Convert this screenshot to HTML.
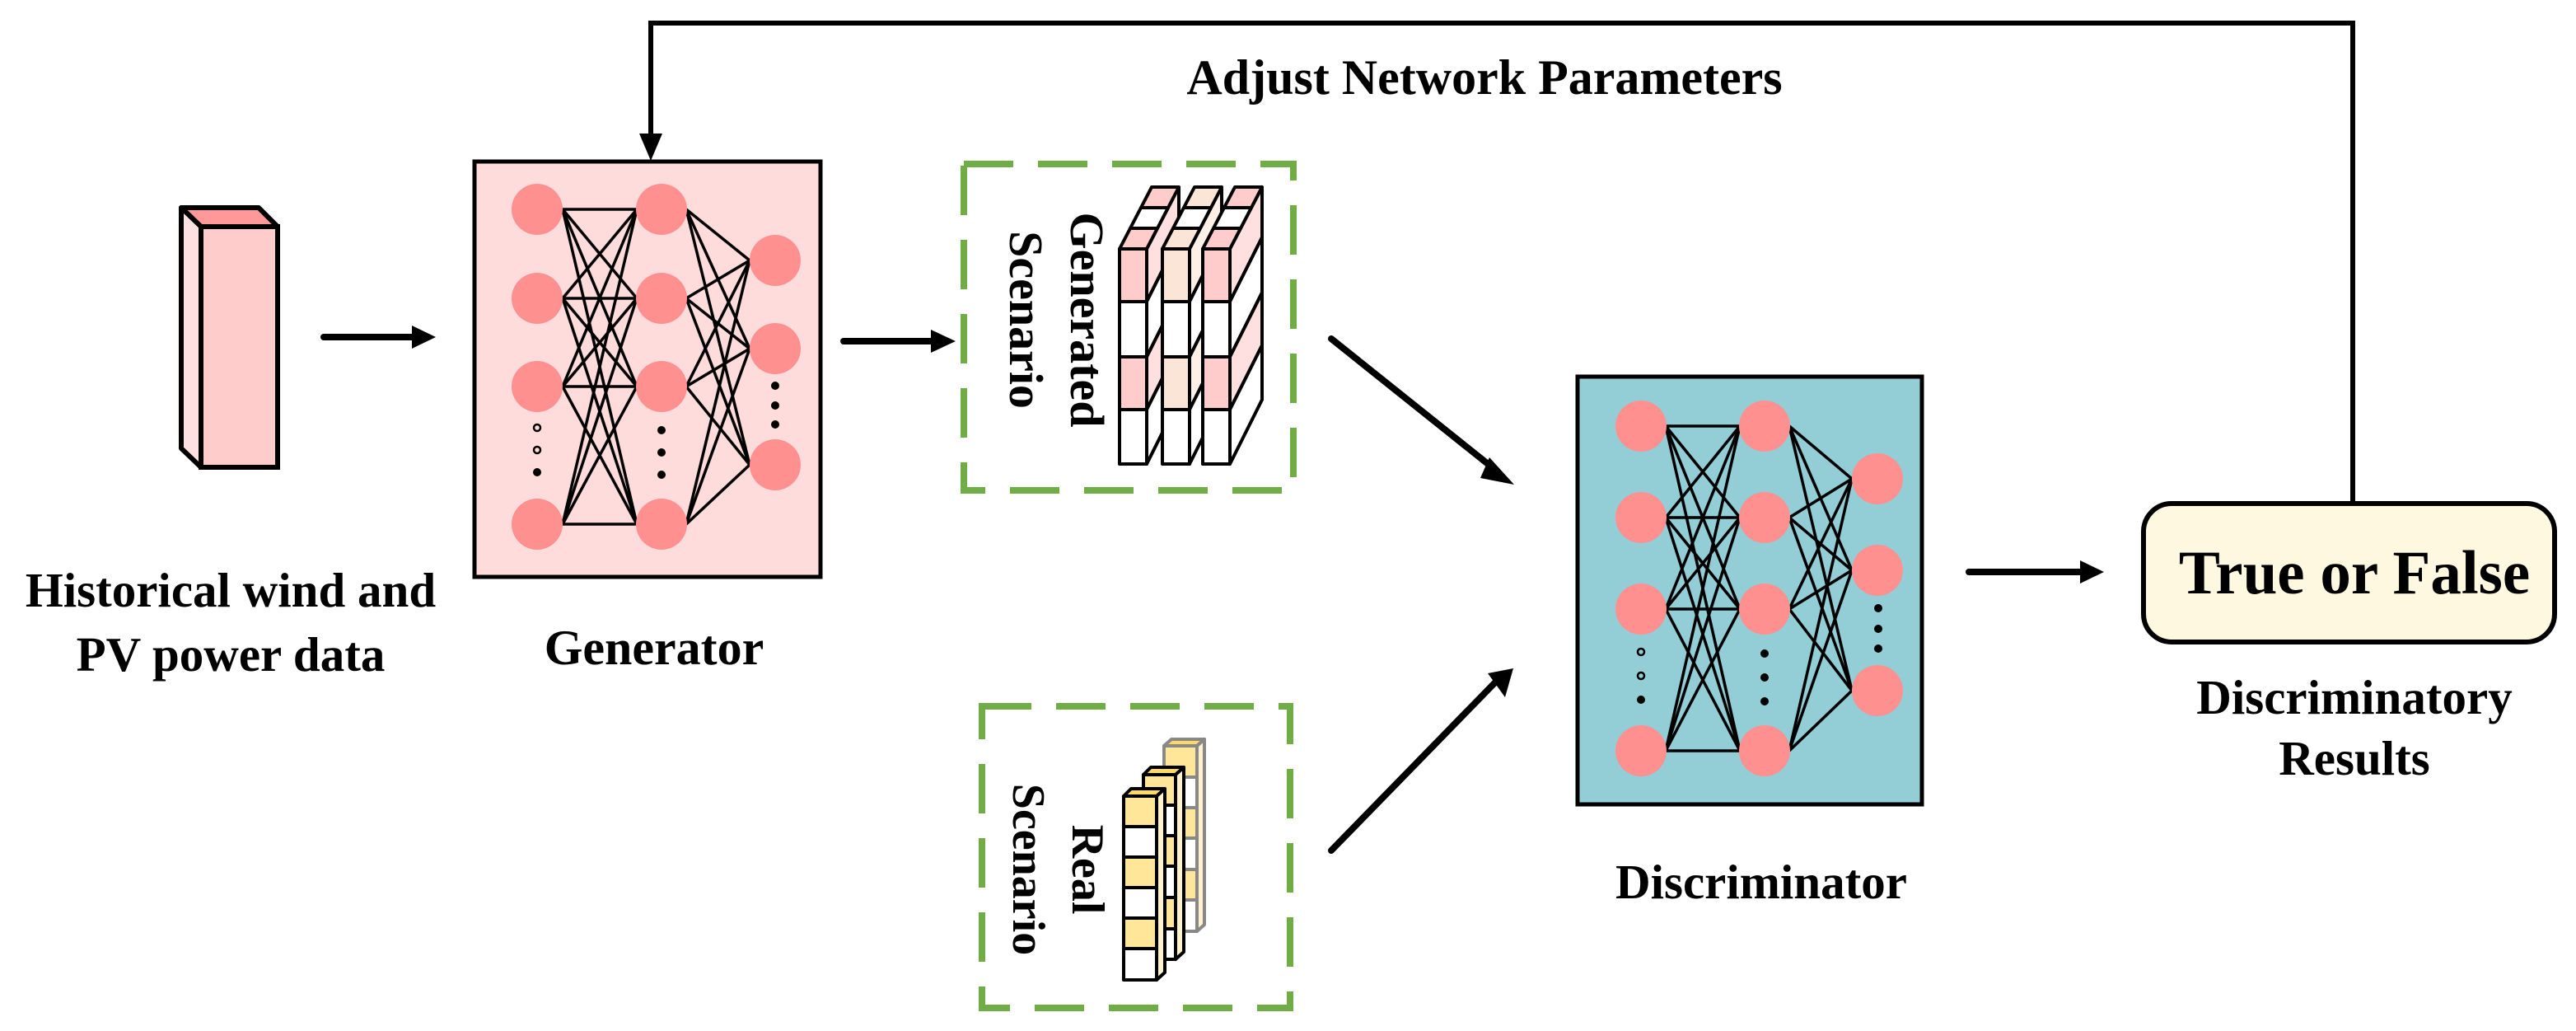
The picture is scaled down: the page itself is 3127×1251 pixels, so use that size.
<!DOCTYPE html>
<html><head><meta charset="utf-8"><style>
html,body{margin:0;padding:0;background:#fff;}
svg{display:block;}
text{font-family:"Liberation Serif",serif;font-weight:bold;fill:#000;}
</style></head><body>
<svg width="3127" height="1251" viewBox="0 0 3127 1251" xmlns="http://www.w3.org/2000/svg">

<!-- Input bar -->
<polygon points="220,252 314,252 337,275 244,275" fill="#FF9999" stroke="#000" stroke-width="6" stroke-linejoin="round"/>
<polygon points="220,252 244,275 244,567 220,544" fill="#FFE0E0" stroke="#000" stroke-width="6" stroke-linejoin="round"/>
<rect x="244" y="275" width="93" height="292" fill="#FFCCCC" stroke="#000" stroke-width="6"/>
<text x="280" y="736" font-size="59" text-anchor="middle">Historical wind and</text>
<text x="280" y="814" font-size="59" text-anchor="middle">PV power data</text>

<!-- arrow input->generator -->
<line x1="393" y1="409" x2="502" y2="409" stroke="#000" stroke-width="8" stroke-linecap="round"/>
<polygon points="500,395 529,409 500,423" fill="#000"/>

<!-- Generator -->
<rect x="576" y="196" width="420" height="504" fill="#FFDCDC" stroke="#000" stroke-width="5"/>
<g stroke="#000" stroke-width="3.5">
<line x1="683" y1="254" x2="773" y2="254"/><line x1="683" y1="254" x2="773" y2="362"/><line x1="683" y1="254" x2="773" y2="469"/><line x1="683" y1="254" x2="773" y2="636"/>
<line x1="683" y1="362" x2="773" y2="254"/><line x1="683" y1="362" x2="773" y2="362"/><line x1="683" y1="362" x2="773" y2="469"/><line x1="683" y1="362" x2="773" y2="636"/>
<line x1="683" y1="469" x2="773" y2="254"/><line x1="683" y1="469" x2="773" y2="362"/><line x1="683" y1="469" x2="773" y2="469"/><line x1="683" y1="469" x2="773" y2="636"/>
<line x1="683" y1="636" x2="773" y2="254"/><line x1="683" y1="636" x2="773" y2="362"/><line x1="683" y1="636" x2="773" y2="469"/><line x1="683" y1="636" x2="773" y2="636"/>
<line x1="833" y1="254" x2="910" y2="316"/><line x1="833" y1="254" x2="910" y2="423"/><line x1="833" y1="254" x2="910" y2="564"/>
<line x1="833" y1="362" x2="910" y2="316"/><line x1="833" y1="362" x2="910" y2="423"/><line x1="833" y1="362" x2="910" y2="564"/>
<line x1="833" y1="469" x2="910" y2="316"/><line x1="833" y1="469" x2="910" y2="423"/><line x1="833" y1="469" x2="910" y2="564"/>
<line x1="833" y1="636" x2="910" y2="316"/><line x1="833" y1="636" x2="910" y2="423"/><line x1="833" y1="636" x2="910" y2="564"/>
</g>
<g fill="#FF9090">
<circle cx="652" cy="254" r="31"/><circle cx="652" cy="362" r="31"/><circle cx="652" cy="469" r="31"/><circle cx="652" cy="636" r="31"/>
<circle cx="803" cy="254" r="31"/><circle cx="803" cy="362" r="31"/><circle cx="803" cy="469" r="31"/><circle cx="803" cy="636" r="31"/>
<circle cx="941" cy="316" r="31"/><circle cx="941" cy="423" r="31"/><circle cx="941" cy="564" r="31"/>
</g>
<g fill="#000">
<circle cx="652" cy="519" r="4" fill="none" stroke="#000" stroke-width="2.5"/><circle cx="652" cy="546" r="4" fill="none" stroke="#000" stroke-width="2.5"/><circle cx="652" cy="573" r="5"/>
<circle cx="803" cy="522" r="5"/><circle cx="803" cy="549" r="5"/><circle cx="803" cy="576" r="5"/>
<circle cx="941" cy="468" r="5"/><circle cx="941" cy="492" r="5"/><circle cx="941" cy="515" r="5"/>
</g>
<text x="794" y="806" font-size="60" text-anchor="middle">Generator</text>

<!-- arrow gen -> generated scenario -->
<line x1="1024" y1="414" x2="1132" y2="414" stroke="#000" stroke-width="8" stroke-linecap="round"/>
<polygon points="1130,400 1160,414 1130,428" fill="#000"/>

<!-- Generated scenario box -->
<rect x="1170" y="199" width="400" height="396" fill="none" stroke="#70AD47" stroke-width="8" stroke-dasharray="60,30"/>
<text transform="translate(1300,388) rotate(90)" font-size="58" text-anchor="middle">Generated</text>
<text transform="translate(1226,388) rotate(90)" font-size="58" text-anchor="middle">Scenario</text>

<!-- cube columns -->
<g stroke="#000" stroke-width="4" stroke-linejoin="round">
<polygon points="1392,302 1431,227 1431,288 1392,366" fill="#FFE0E0"/>
<polygon points="1392,366 1431,288 1431,355 1392,433" fill="#fff"/>
<polygon points="1392,433 1431,355 1431,419 1392,497" fill="#FFE0E0"/>
<polygon points="1392,497 1431,419 1431,485 1392,563" fill="#fff"/>
<polygon points="1359,302 1392,302 1405,277 1372,277" fill="#FFCCCC"/>
<polygon points="1372,277 1405,277 1418,252 1385,252" fill="#fff"/>
<polygon points="1385,252 1418,252 1431,227 1398,227" fill="#FFCCCC"/>
<rect x="1359" y="302" width="33" height="64" fill="#FFCCCC"/><rect x="1359" y="366" width="33" height="67" fill="#fff"/>
<rect x="1359" y="433" width="33" height="64" fill="#FFCCCC"/><rect x="1359" y="497" width="33" height="66" fill="#fff"/>
<polygon points="1444,302 1483,227 1483,288 1444,366" fill="#FDF0E6"/>
<polygon points="1444,366 1483,288 1483,355 1444,433" fill="#fff"/>
<polygon points="1444,433 1483,355 1483,419 1444,497" fill="#FDF0E6"/>
<polygon points="1444,497 1483,419 1483,485 1444,563" fill="#fff"/>
<polygon points="1411,302 1444,302 1457,277 1424,277" fill="#FBE5D6"/>
<polygon points="1424,277 1457,277 1470,252 1437,252" fill="#fff"/>
<polygon points="1437,252 1470,252 1483,227 1450,227" fill="#FBE5D6"/>
<rect x="1411" y="302" width="33" height="64" fill="#FBE5D6"/><rect x="1411" y="366" width="33" height="67" fill="#fff"/>
<rect x="1411" y="433" width="33" height="64" fill="#FBE5D6"/><rect x="1411" y="497" width="33" height="66" fill="#fff"/>
<polygon points="1493,302 1532,227 1532,288 1493,366" fill="#FFE0E0"/>
<polygon points="1493,366 1532,288 1532,355 1493,433" fill="#fff"/>
<polygon points="1493,433 1532,355 1532,419 1493,497" fill="#FFE0E0"/>
<polygon points="1493,497 1532,419 1532,485 1493,563" fill="#fff"/>
<polygon points="1460,302 1493,302 1506,277 1473,277" fill="#FFCCCC"/>
<polygon points="1473,277 1506,277 1519,252 1486,252" fill="#fff"/>
<polygon points="1486,252 1519,252 1532,227 1499,227" fill="#FFCCCC"/>
<rect x="1460" y="302" width="33" height="64" fill="#FFCCCC"/><rect x="1460" y="366" width="33" height="67" fill="#fff"/>
<rect x="1460" y="433" width="33" height="64" fill="#FFCCCC"/><rect x="1460" y="497" width="33" height="66" fill="#fff"/>
</g>

<!-- Real scenario box -->
<rect x="1192" y="857" width="374" height="366" fill="none" stroke="#70AD47" stroke-width="8" stroke-dasharray="60,30"/>
<text transform="translate(1302,1055) rotate(90)" font-size="56" text-anchor="middle">Real</text>
<text transform="translate(1230,1055) rotate(90)" font-size="56" text-anchor="middle">Scenario</text>

<g stroke="#888" stroke-width="4" stroke-linejoin="round">
<polygon points="1413,905 1422,897 1462,897 1453,905" fill="#FFD966"/>
<polygon points="1453,905 1462,897 1462,1122 1453,1130" fill="#FFF2CC"/>
<rect x="1413" y="905" width="40" height="38" fill="#FFE699"/><rect x="1413" y="943" width="40" height="37" fill="#fff"/>
<rect x="1413" y="980" width="40" height="37" fill="#FFE699"/><rect x="1413" y="1017" width="40" height="38" fill="#fff"/>
<rect x="1413" y="1055" width="40" height="37" fill="#FFE699"/><rect x="1413" y="1092" width="40" height="38" fill="#fff"/>
</g>
<g stroke="#000" stroke-width="4" stroke-linejoin="round">
<polygon points="1388,940 1397,931 1437,931 1427,940" fill="#FFD966"/>
<polygon points="1427,940 1437,931 1437,1155 1427,1164" fill="#FFF2CC"/>
<rect x="1388" y="940" width="39" height="37" fill="#FFE699"/><rect x="1388" y="977" width="39" height="37" fill="#fff"/>
<rect x="1388" y="1014" width="39" height="37" fill="#FFE699"/><rect x="1388" y="1051" width="39" height="38" fill="#fff"/>
<rect x="1388" y="1089" width="39" height="38" fill="#FFE699"/><rect x="1388" y="1127" width="39" height="37" fill="#fff"/>
<polygon points="1364,966 1373,957 1414,957 1404,966" fill="#FFD966"/>
<polygon points="1404,966 1414,957 1414,1180 1404,1189" fill="#FFF2CC"/>
<rect x="1364" y="966" width="40" height="37" fill="#FFE699"/><rect x="1364" y="1003" width="40" height="37" fill="#fff"/>
<rect x="1364" y="1040" width="40" height="37" fill="#FFE699"/><rect x="1364" y="1077" width="40" height="37" fill="#fff"/>
<rect x="1364" y="1114" width="40" height="37" fill="#FFE699"/><rect x="1364" y="1151" width="40" height="38" fill="#fff"/>
</g>

<!-- diagonal arrows -->
<line x1="1616" y1="411" x2="1815" y2="570" stroke="#000" stroke-width="8" stroke-linecap="round"/>
<polygon points="1808,555 1838,588 1797,580" fill="#000"/>
<line x1="1616" y1="1032" x2="1815" y2="828" stroke="#000" stroke-width="8" stroke-linecap="round"/>
<polygon points="1806,817 1837,811 1827,846" fill="#000"/>

<!-- Discriminator -->
<rect x="1915" y="457" width="418" height="519" fill="#93CDD6" stroke="#000" stroke-width="5"/>
<g stroke="#000" stroke-width="3.5">
<line x1="2022" y1="517" x2="2112" y2="517"/><line x1="2022" y1="517" x2="2112" y2="628"/><line x1="2022" y1="517" x2="2112" y2="739"/><line x1="2022" y1="517" x2="2112" y2="911"/>
<line x1="2022" y1="628" x2="2112" y2="517"/><line x1="2022" y1="628" x2="2112" y2="628"/><line x1="2022" y1="628" x2="2112" y2="739"/><line x1="2022" y1="628" x2="2112" y2="911"/>
<line x1="2022" y1="739" x2="2112" y2="517"/><line x1="2022" y1="739" x2="2112" y2="628"/><line x1="2022" y1="739" x2="2112" y2="739"/><line x1="2022" y1="739" x2="2112" y2="911"/>
<line x1="2022" y1="911" x2="2112" y2="517"/><line x1="2022" y1="911" x2="2112" y2="628"/><line x1="2022" y1="911" x2="2112" y2="739"/><line x1="2022" y1="911" x2="2112" y2="911"/>
<line x1="2172" y1="517" x2="2248" y2="581"/><line x1="2172" y1="517" x2="2248" y2="692"/><line x1="2172" y1="517" x2="2248" y2="838"/>
<line x1="2172" y1="628" x2="2248" y2="581"/><line x1="2172" y1="628" x2="2248" y2="692"/><line x1="2172" y1="628" x2="2248" y2="838"/>
<line x1="2172" y1="739" x2="2248" y2="581"/><line x1="2172" y1="739" x2="2248" y2="692"/><line x1="2172" y1="739" x2="2248" y2="838"/>
<line x1="2172" y1="911" x2="2248" y2="581"/><line x1="2172" y1="911" x2="2248" y2="692"/><line x1="2172" y1="911" x2="2248" y2="838"/>
</g>
<g fill="#FF9090">
<circle cx="1992" cy="517" r="31"/><circle cx="1992" cy="628" r="31"/><circle cx="1992" cy="739" r="31"/><circle cx="1992" cy="911" r="31"/>
<circle cx="2142" cy="517" r="31"/><circle cx="2142" cy="628" r="31"/><circle cx="2142" cy="739" r="31"/><circle cx="2142" cy="911" r="31"/>
<circle cx="2279" cy="581" r="31"/><circle cx="2279" cy="692" r="31"/><circle cx="2279" cy="838" r="31"/>
</g>
<g fill="#000">
<circle cx="1992" cy="791" r="4" fill="none" stroke="#000" stroke-width="2.5"/><circle cx="1992" cy="820" r="4" fill="none" stroke="#000" stroke-width="2.5"/><circle cx="1992" cy="849" r="5"/>
<circle cx="2142" cy="793" r="5"/><circle cx="2142" cy="822" r="5"/><circle cx="2142" cy="851" r="5"/>
<circle cx="2280" cy="738" r="5"/><circle cx="2280" cy="763" r="5"/><circle cx="2280" cy="787" r="5"/>
</g>
<text x="2138" y="1090" font-size="59" text-anchor="middle">Discriminator</text>

<!-- arrow disc -> T/F -->
<line x1="2390" y1="694" x2="2528" y2="694" stroke="#000" stroke-width="8" stroke-linecap="round"/>
<polygon points="2525,680 2554,694 2525,708" fill="#000"/>

<!-- True or False -->
<rect x="2602" y="611" width="499" height="168" rx="34" ry="34" fill="#FFF8E1" stroke="#000" stroke-width="6"/>
<text x="2858" y="720" font-size="75" text-anchor="middle">True or False</text>
<text x="2858" y="866" font-size="59" text-anchor="middle">Discriminatory</text>
<text x="2858" y="940" font-size="59" text-anchor="middle">Results</text>

<!-- feedback -->
<polyline points="2856,611 2856,28 790,28 790,165" fill="none" stroke="#000" stroke-width="6"/>
<polygon points="776,162 790,195 804,162" fill="#000"/>
<text x="1802" y="114" font-size="60" text-anchor="middle">Adjust Network Parameters</text>
</svg>
</body></html>
